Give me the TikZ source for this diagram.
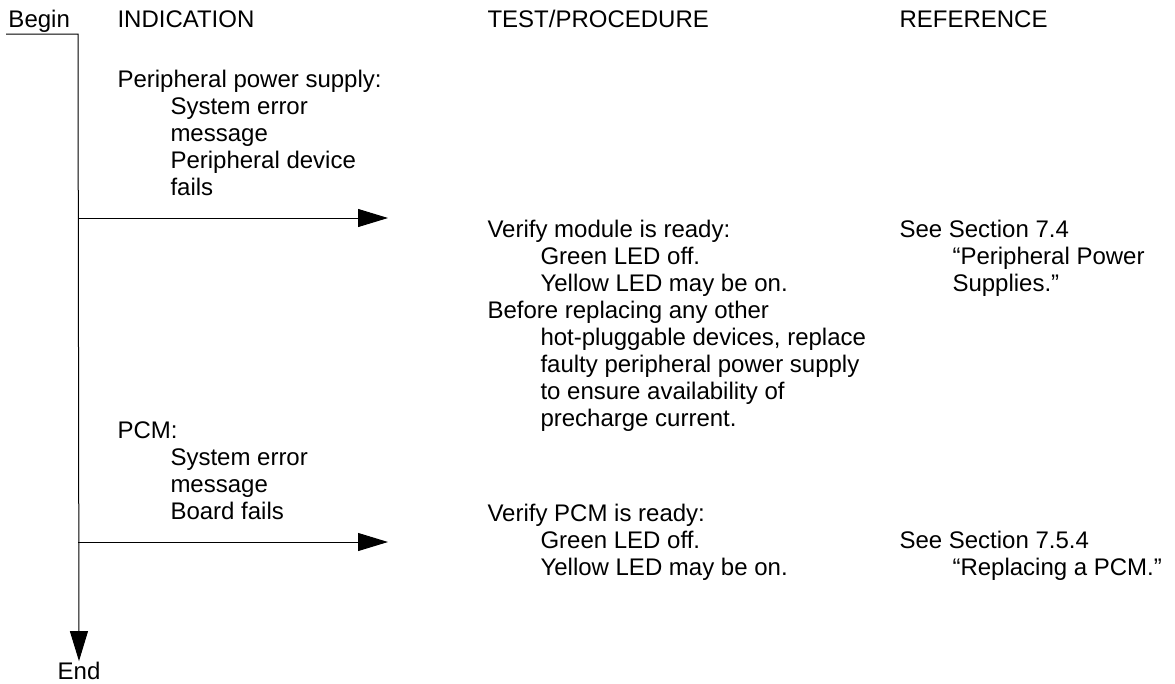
\documentclass[tikz,border=0pt]{standalone}
\usepackage{fontspec}
\setmainfont{Liberation Sans}
\usetikzlibrary{arrows.meta}
\newcommand{\indline}{\hspace*{53pt}}
\begin{document}
\begin{tikzpicture}[x=1pt, y=-1pt, line width=1pt, txt/.style = {inner sep=0, font=\fontsize{24}{27}\selectfont}, head/.style = {txt, anchor=base west}, blk/.style = {txt, align=left, anchor=north west}, flow/.style = {-{Triangle[length=30pt, width=18pt]}}]
    \useasboundingbox (0,0) rectangle (1175,683);
    \node[head] (begin) at (8,27) {Begin};
    \node[head] (ind) at (117,27) {INDICATION};
    \node[head] (test) at (487,27) {TEST/PROCEDURE};
    \node[head] (ref) at (899,27) {REFERENCE};
    \node[blk] (ind1) at (117,70) {Peripheral power supply:\\ \indline System error\\ \indline message\\ \indline Peripheral device\\ \indline fails};
    \node[blk] (test1) at (487,220) {Verify module is ready:\\ \indline Green LED off.\\ \indline Yellow LED may be on.\\ Before replacing any other\\ \indline hot-pluggable devices, replace\\ \indline faulty peripheral power supply\\ \indline to ensure availability of\\ \indline precharge current.};
    \node[blk] (ref1) at (899,220) {See Section 7.4\\ \indline “Peripheral Power\\ \indline Supplies.”};
    \node[blk] (ind2) at (117,421) {PCM:\\ \indline System error\\ \indline message\\ \indline Board fails};
    \node[blk] (test2) at (487,504) {Verify PCM is ready:\\ \indline Green LED off.\\ \indline Yellow LED may be on.};
    \node[blk] (ref2) at (899,531) {See Section 7.5.4\\ \indline “Replacing a PCM.”};
    \node[head, anchor=base] (end) at (79,679) {End};
    \coordinate (start) at (6,34);
    \coordinate (corner) at (78,34);
    \coordinate (b1) at (78,218);
    \coordinate (t1) at (388,218);
    \coordinate (b2) at (78,542);
    \coordinate (t2) at (388,542);
    \draw[flow] (start) -- (corner) -- (end.north);
    \draw[flow] (b1) -- (t1);
    \draw[flow] (b2) -- (t2);
\end{tikzpicture}
\end{document}
